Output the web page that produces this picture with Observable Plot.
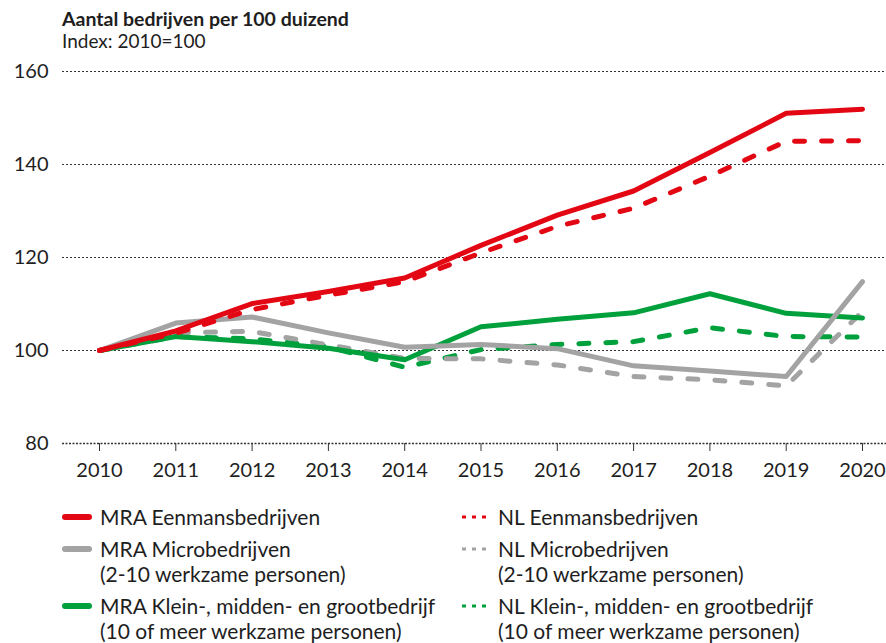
<!DOCTYPE html>
<html><head><meta charset="utf-8">
<script src="https://cdn.jsdelivr.net/npm/d3@7"></script>
<script src="https://cdn.jsdelivr.net/npm/@observablehq/plot@0.6"></script>
<style>
body{margin:0;background:#fff;font-family:Lato,"Noto Sans",sans-serif;color:#1e1e1e;}
#wrap{position:relative;width:886px;height:643px;overflow:hidden;}
#title{position:absolute;left:62px;top:8px;font-weight:700;font-size:19.5px;line-height:22px;}
#sub{position:absolute;left:62px;top:30px;font-size:19px;line-height:22px;}
#chart{position:absolute;left:0;top:58px;}
.li{position:absolute;font-size:21px;line-height:25px;white-space:nowrap;}
.li svg{position:absolute;left:0;top:9px;}
.li .t{position:absolute;left:38px;top:0;}
</style>
</head><body>
<div id="wrap">
<div id="title">Aantal bedrijven per 100 duizend</div>
<div id="sub">Index: 2010=100</div>
<div id="chart"></div>
<div id="legend"></div>
</div>
<script>
const years = [2010,2011,2012,2013,2014,2015,2016,2017,2018,2019,2020];
const mraEenmans = [100,104.2,110.1,112.7,115.6,122.6,129.1,134.3,142.6,151.0,151.9];
const nlEenmans  = [100,103.7,108.8,111.9,114.8,121.0,126.7,130.6,137.5,145.0,145.1];
const mraMicro   = [100,105.9,107.2,103.8,100.7,101.3,100.4,96.7,95.6,94.4,114.8];
const nlMicro    = [100,103.8,104.1,101.2,98.3,98.2,96.9,94.4,93.7,92.4,108.4];
const mraKlein   = [100,103.0,101.9,100.5,98.0,105.1,106.7,108.1,112.2,108.0,107.0];
const nlKlein    = [100,103.0,102.5,100.8,96.4,100.2,101.3,101.9,104.9,103.0,102.9];
const yTicks = [80,100,120,140,160];

const RED="#e30613", GREY="#a3a3a3", GREEN="#00a03c";
const series = [
  {name:"NL Klein-, midden- en grootbedrijf", sub:"(10 of meer werkzame personen)", values:nlKlein, color:GREEN, dashed:true},
  {name:"NL Microbedrijven", sub:"(2-10 werkzame personen)", values:nlMicro, color:GREY, dashed:true},
  {name:"MRA Klein-, midden- en grootbedrijf", sub:"(10 of meer werkzame personen)", values:mraKlein, color:GREEN, dashed:false},
  {name:"MRA Microbedrijven", sub:"(2-10 werkzame personen)", values:mraMicro, color:GREY, dashed:false},
  {name:"NL Eenmansbedrijven", sub:"", values:nlEenmans, color:RED, dashed:true},
  {name:"MRA Eenmansbedrijven", sub:"", values:mraEenmans, color:RED, dashed:false}
];

const lineMarks = series.map(s => Plot.line(years.map((y,i)=>({year:y, value:s.values[i]})), {
  x:"year", y:"value", stroke:s.color, strokeWidth:5,
  strokeLinecap:"round", strokeLinejoin:"round",
  strokeDasharray: s.dashed ? "10,17" : null
}));

const chart = Plot.plot({
  width:886, height:425,
  marginLeft:62, marginRight:0, marginTop:13, marginBottom:40,
  style:{fontFamily:"Lato, 'Noto Sans', sans-serif", fontSize:"20px", color:"#1e1e1e", background:"#fff"},
  x:{domain:[2010,2020], range:[99,862]},
  y:{domain:[80,160]},
  marks:[
    Plot.ruleY(yTicks.slice(1), {stroke:"#333", strokeWidth:1, strokeDasharray:"2,2"}),
    Plot.ruleY([80], {stroke:"#333", strokeWidth:1.6, strokeDasharray:"2,1.5"}),
    Plot.axisY({ticks:yTicks, tickSize:0, tickPadding:14, fontSize:20, label:null, tickFormat:d=>String(d)}),
    Plot.axisX({ticks:years, tickSize:8, tickPadding:11, fontSize:20, label:null, tickFormat:d=>String(d), stroke:"#333"}),
    ...lineMarks
  ]
});
document.getElementById("chart").appendChild(chart);

// legend
const legendOrder = [
  [series[5], 62, 504], [series[4], 460, 504],
  [series[3], 62, 536], [series[1], 460, 536],
  [series[2], 62, 593], [series[0], 460, 593]
];
const leg = document.getElementById("legend");
legendOrder.forEach(([s,x,y])=>{
  const d = document.createElement("div");
  d.className="li"; d.style.left=x+"px"; d.style.top=y+"px";
  const sw = s.dashed
    ? `<svg width="30" height="8"><line x1="2" y1="4" x2="28" y2="4" stroke="${s.color}" stroke-width="3" stroke-dasharray="4,6"/></svg>`
    : `<svg width="30" height="8"><line x1="3" y1="4" x2="27" y2="4" stroke="${s.color}" stroke-width="6" stroke-linecap="round"/></svg>`;
  d.innerHTML = sw + `<div class="t">${s.name}${s.sub?"<br>"+s.sub:""}</div>`;
  leg.appendChild(d);
});
</script>
</body></html>
